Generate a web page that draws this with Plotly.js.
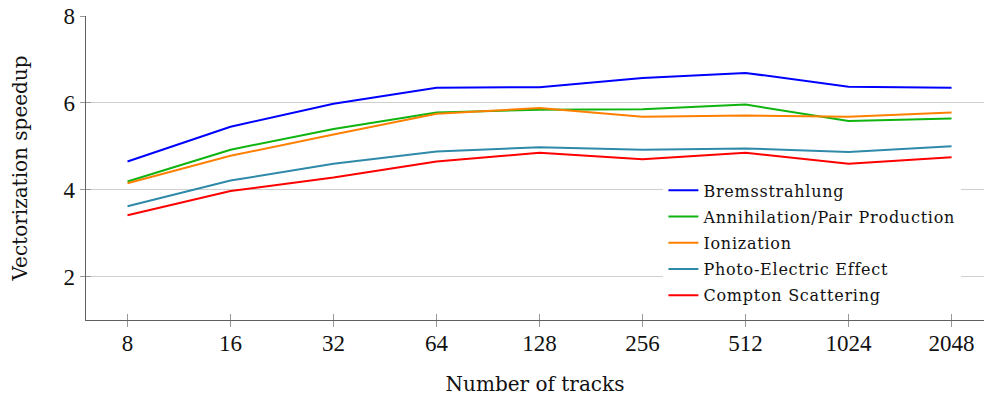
<!DOCTYPE html>
<html>
<head>
<meta charset="utf-8">
<script src="https://cdn.plot.ly/plotly-3.0.1.min.js"></script>
<style>
html,body{margin:0;padding:0;background:#fff;}
#chart{width:984px;height:398px;}
.legendtext{letter-spacing:0.75px;}
</style>
</head>
<body>
<div id="chart"></div>
<script>
const trackCounts = ['8','16','32','64','128','256','512','1024','2048'];
const seriesNames = ['Bremsstrahlung','Annihilation/Pair Production','Ionization','Photo-Electric Effect','Compton Scattering'];
const bremsstrahlung = [4.65,5.45,5.98,6.35,6.36,6.57,6.69,6.37,6.35];
const annihilation   = [4.19,4.92,5.40,5.78,5.84,5.85,5.96,5.58,5.64];
const ionization     = [4.15,4.78,5.27,5.75,5.88,5.68,5.71,5.68,5.78];
const photoElectric  = [3.62,4.21,4.60,4.88,4.98,4.92,4.95,4.87,5.00];
const compton        = [3.41,3.97,4.28,4.65,4.85,4.70,4.85,4.60,4.75];
const yTicks = [2,4,6,8];

const seriesValues = [bremsstrahlung, annihilation, ionization, photoElectric, compton];
const colors = ['#0000ff','#10b410','#ff8000','#2e8aa8','#ff0000'];

const traces = seriesValues.map((vals, i) => ({
  type: 'scatter', mode: 'lines',
  x: trackCounts, y: vals,
  name: seriesNames[i],
  legendgroup: 'g' + i,
  line: {color: colors[i], width: 2}
}));
traces.push({type:'scatter', mode:'lines', x:[], y:[], xaxis:'x2', yaxis:'y2', showlegend:false, hoverinfo:'skip'});

const xr = [-0.403, 8.315];
const yr = [1, 8];
const tickFont = {family: 'Liberation Serif', size: 23, color: '#111'};
const titleFont = {family: 'DejaVu Serif', size: 20, color: '#111'};

const layout = {
  width: 984, height: 398,
  margin: {l: 86, r: 0, t: 16, b: 78},
  paper_bgcolor: '#fff', plot_bgcolor: '#fff',
  showlegend: true,
  xaxis: {
    type: 'category', range: xr,
    showline: true, linecolor: '#606060', linewidth: 1.3,
    ticks: 'outside', ticklen: 6, tickcolor: '#999', tickwidth: 1,
    ticklabelstandoff: -4,
    tickfont: tickFont, showgrid: false, zeroline: false,
    title: {text: 'Number of tracks', font: titleFont, standoff: 22}
  },
  yaxis: {
    range: yr, tickvals: yTicks,
    showline: true, linecolor: '#606060', linewidth: 1.3,
    ticks: 'outside', ticklen: 5, tickcolor: '#999', tickwidth: 1,
    tickfont: tickFont, showgrid: true, gridcolor: '#cfcfcf', gridwidth: 1, zeroline: false,
    title: {text: 'Vectorization speedup', font: titleFont, standoff: 30}
  },
  xaxis2: {
    overlaying: 'x', anchor: 'y', range: xr, tickvals: [0,1,2,3,4,5,6,7,8],
    showticklabels: false, ticks: 'inside', ticklen: 6, tickcolor: '#999', tickwidth: 1,
    showgrid: false, zeroline: false, showline: false
  },
  yaxis2: {
    overlaying: 'y', anchor: 'x', side: 'left', range: yr, tickvals: yTicks,
    showticklabels: false, ticks: 'inside', ticklen: 5, tickcolor: '#999', tickwidth: 1,
    showgrid: false, zeroline: false, showline: false
  },
  legend: {
    x: 0.643, y: 0.482, xanchor: 'left', yanchor: 'top',
    bgcolor: '#fff', borderwidth: 0,
    font: {family: 'DejaVu Serif', size: 16, color: '#111'},
    tracegroupgap: 2.4
  }
};

Plotly.newPlot('chart', traces, layout, {displayModeBar: false, staticPlot: true});
</script>
</body>
</html>
